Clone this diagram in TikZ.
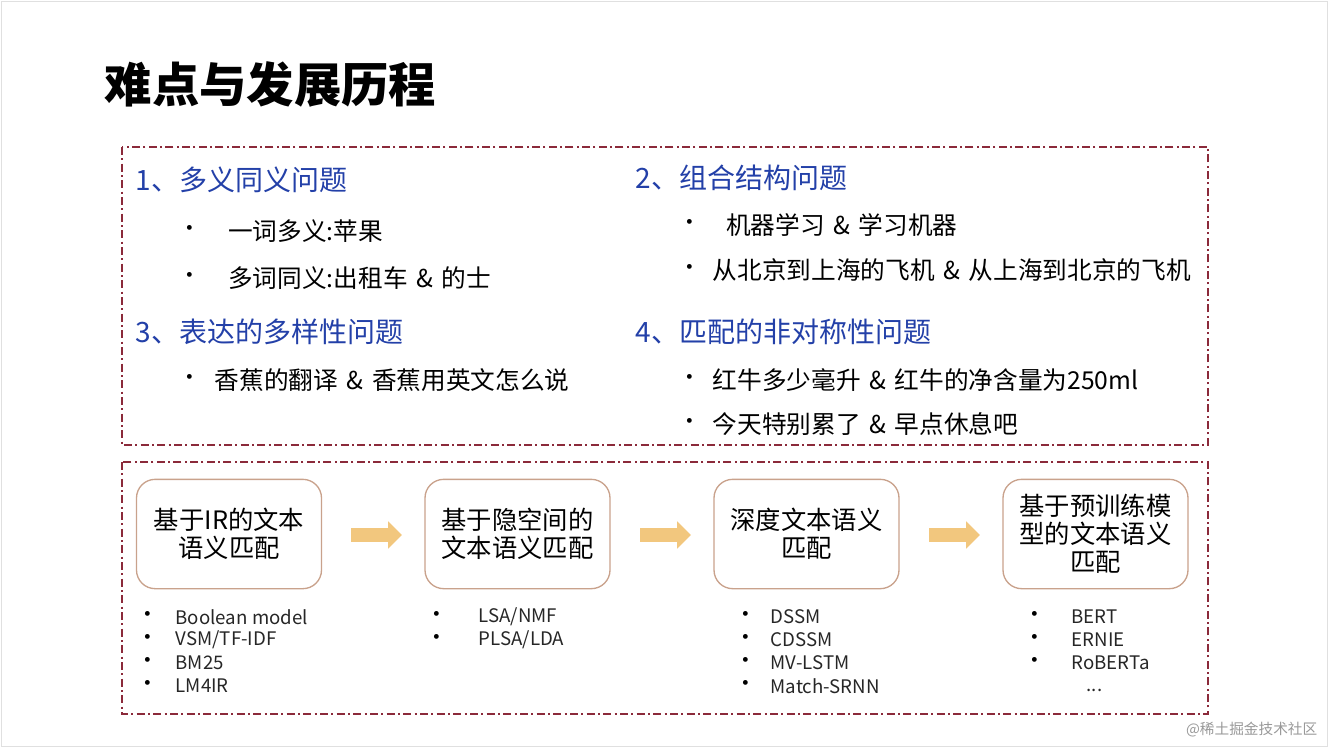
\documentclass[tikz,border=0pt]{standalone}
\usepackage{fontspec}
\setmainfont{Noto Sans CJK SC}
\usetikzlibrary{shapes.arrows}
\definecolor{hblue}{HTML}{2340A8}
\definecolor{dred}{HTML}{8B2A3A}
\definecolor{boxb}{HTML}{C9A28C}
\definecolor{arr}{HTML}{F2C77E}
\newcommand{\amp}{\hspace{0.35em}\&\hspace{0.35em}}
\tikzset{
  frame/.style={draw=dred, line width=1.3pt, dash pattern=on 6pt off 2.5pt on 1.5pt off 2.5pt},
  head/.style={anchor=west, text=hblue, font=\fontsize{21}{25}\selectfont},
  item/.style={anchor=west, font=\fontsize{18.5}{22}\selectfont},
  bul/.style={anchor=center, font=\fontsize{17}{19}\selectfont},
  stage/.style={draw=boxb, line width=1pt, rounded corners=14pt, minimum width=138.75pt, minimum height=82pt, align=center, font=\fontsize{19}{21}\selectfont},
  sm/.style={anchor=west, font=\fontsize{14}{16}\selectfont, text=black!85},
  arrw/.style={single arrow, fill=arr, draw=none, minimum width=20pt, minimum height=38pt, inner ysep=5pt, inner xsep=0pt, single arrow head extend=5pt}
}
\begin{document}
\begin{tikzpicture}[x=0.75pt,y=-0.75pt]
\useasboundingbox (0,0) rectangle (1328,747);
\draw[black!12] (1,1) rectangle (1327,746);
\node[anchor=west, font=\bfseries\fontsize{35.5}{40}\selectfont] (title) at (100,85) {难点与发展历程};
\draw[frame] (122,147) rectangle (1208,445);
\draw[frame] (122,462) rectangle (1208,714);
% upper
\node[head] (h1) at (131,180) {1、多义同义问题};
\node[head] (h2) at (631,178) {2、组合结构问题};
\node[head] (h3) at (131,332) {3、表达的多样性问题};
\node[head] (h4) at (631,332) {4、匹配的非对称性问题};
\node[bul] (b1) at (190,231) {•}; \node[item] (t1) at (218,231) {\ 一词多义:苹果};
\node[bul] (b2) at (190,278) {•}; \node[item] (t2) at (218,278) {\ 多词同义:出租车\amp 的士};
\node[bul] (b3) at (190,380) {•}; \node[item] (t3) at (210,380) {香蕉的翻译\amp 香蕉用英文怎么说};
\node[bul] (b4) at (690,225) {•}; \node[item] (t4) at (716,225) {\ 机器学习\amp 学习机器};
\node[bul] (b5) at (690,270) {•}; \node[item] (t5) at (708,270) {从北京到上海的飞机\amp 从上海到北京的飞机};
\node[bul] (b6) at (690,380) {•}; \node[item] (t6) at (708,380) {红牛多少毫升\amp 红牛的净含量为250ml};
\node[bul] (b7) at (690,424) {•}; \node[item] (t7) at (708,424) {今天特别累了\amp 早点休息吧};
% stages
\node[stage] (s1) at (229,534) {基于IR的文本\\语义匹配};
\node[stage] (s2) at (517.5,534) {基于隐空间的\\文本语义匹配};
\node[stage] (s3) at (806.5,534) {深度文本语义\\匹配};
\node[stage] (s4) at (1095.5,534) {基于预训练模\\型的文本语义\\匹配};
\node[arrw] (a1) at (373,535) {};
\node[arrw] (a2) at (662,535) {};
\node[arrw] (a3) at (951,535) {};
% lists
\foreach \t [count=\i] in {Boolean model,VSM/TF-IDF,BM25,LM4IR}{
  \node[bul] at (148,594+23*\i) {•}; \node[sm] at (171,594+23*\i) {\t};}
\foreach \t [count=\i] in {LSA/NMF,PLSA/LDA}{
  \node[bul] at (437,594+23*\i) {•}; \node[sm] at (474,594+23*\i) {\t};}
\foreach \t [count=\i] in {DSSM,CDSSM,MV-LSTM,Match-SRNN}{
  \node[bul] at (746,594+23*\i) {•}; \node[sm] at (766,594+23*\i) {\t};}
\foreach \t [count=\i] in {BERT,ERNIE,RoBERTa}{
  \node[bul] at (1035,594+23*\i) {•}; \node[sm] at (1067,594+23*\i) {\t};}
\node[sm] (dots) at (1082,690) {...};
\node[anchor=east, text=black!40, font=\fontsize{11}{13}\selectfont] (wm) at (1322,730) {@稀土掘金技术社区};
\end{tikzpicture}
\end{document}
